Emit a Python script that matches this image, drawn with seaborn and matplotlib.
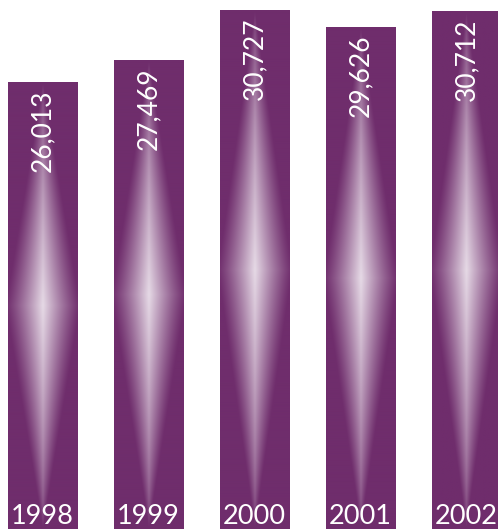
import numpy as np
import pandas as pd
import matplotlib
matplotlib.use("Agg")
import matplotlib.pyplot as plt
import seaborn as sns
from matplotlib.colors import to_rgb

years = ["1998", "1999", "2000", "2001", "2002"]
values = [26013, 27469, 30727, 29626, 30712]
value_labels = ["26,013", "27,469", "30,727", "29,626", "30,712"]

BAR_COLOR = "#6F2D6C"
GLOW_COLOR = "#E6DAE6"
Y_LOW, Y_HIGH = -3187, 31447

sns.set_theme(style="white")
plt.rcParams["font.family"] = ["Lato", "DejaVu Sans"]

fig = plt.figure(figsize=(4.98, 5.29), dpi=100)
ax = fig.add_axes([0, 0, 1, 1])

df = pd.DataFrame({"year": years, "value": values})
sns.barplot(data=df, x="year", y="value", color=BAR_COLOR, saturation=1,
            width=0.651, ax=ax)

bar_rgb = np.array(to_rgb(BAR_COLOR))
glow_rgb = np.array(to_rgb(GLOW_COLOR))

for p, lab, yr in zip(ax.patches, value_labels, years):
    top = p.get_height()
    p.set_y(Y_LOW - 2000)
    p.set_height(top - (Y_LOW - 2000))
    p.set_edgecolor("none")
    x0 = p.get_x()
    w = p.get_width()
    # lens-shaped glow over the visible part of the bar
    ny, nx = 500, 140
    v = np.abs(np.linspace(-1, 1, ny))[:, None]
    u = np.abs(np.linspace(-1, 1, nx))[None, :]
    half = np.maximum(1.0 - v, 1e-3) * 1.08
    lateral = np.clip(1 - u / half, 0, 1) ** 1.2
    along = (1 - v) ** 0.65
    inten = np.clip(lateral * along, 0, 1)
    img = bar_rgb[None, None, :] + (glow_rgb - bar_rgb)[None, None, :] * inten[..., None]
    ax.imshow(img, extent=(x0, x0 + w, Y_LOW, top), aspect="auto",
              interpolation="bilinear", zorder=2)
    xc = x0 + w / 2
    ax.annotate(lab, xy=(xc, top), xytext=(0, -5), textcoords="offset points",
                rotation=90, ha="center", va="top", color="white",
                fontsize=19, zorder=3)
    ax.annotate(yr, xy=(xc, Y_LOW), xytext=(0, 0), textcoords="offset points",
                ha="center", va="bottom", color="white", fontsize=19.5, zorder=3)

ax.set_xlim(-0.401, 4.297)
ax.set_ylim(Y_LOW, Y_HIGH)
ax.axis("off")
fig.savefig("out.png", dpi=100)
